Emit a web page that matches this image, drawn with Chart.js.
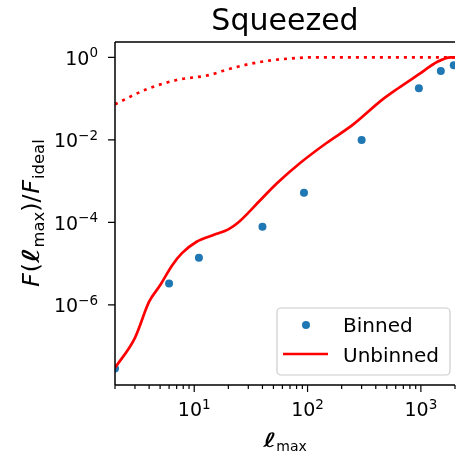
<!DOCTYPE html>
<html>
<head>
<meta charset="utf-8">
<script src="https://cdn.jsdelivr.net/npm/chart.js@4"></script>
<style>
  html, body { margin: 0; padding: 0; background: #fff; }
  canvas { display: block; }
</style>
</head>
<body>
<canvas id="chart" width="459" height="459"></canvas>
<script>
// ── Data ────────────────────────────────────────────────────────────────────
const binnedL = [2, 6, 11, 40, 93, 300, 960, 1500, 1950];
const binnedF = [2.9e-8, 3.3e-6, 1.4e-5, 7.8e-5, 5.2e-4, 9.9e-3, 0.178, 0.467, 0.64];

const unbinnedL = [2, 3, 4, 5, 6.4, 7.8, 10.5, 14.6, 20, 24.3, 38.8, 54, 86, 147, 250, 454, 631, 941, 1400, 1830, 2000];
const unbinnedF = [3e-8, 1.6e-7, 1.2e-6, 3.0e-6, 9.2e-6, 1.8e-5, 3.4e-5, 4.9e-5, 6.8e-5, 9.8e-5, 3.6e-4, 9e-4, 2.75e-3, 8.4e-3, 0.023, 0.093, 0.178, 0.373, 0.78, 1.0, 1.0];

const idealL = [2, 3.8, 7, 13.6, 18.8, 30, 48.7, 80, 112, 300, 1000, 2000];
const idealF = [0.073, 0.168, 0.282, 0.372, 0.49, 0.68, 0.85, 0.96, 1.0, 1.0, 1.0, 1.0];

const xMajor = [10, 100, 1000];
const yMajor = [1, 1e-2, 1e-4, 1e-6];
const yExp = ['0', '−2', '−4', '−6'];
const xExp = ['1', '2', '3'];

const FONT = '"DejaVu Sans"';
const BLUE = '#1f77b4';
const RED = '#ff0000';

const pts = (xs, ys) => xs.map((x, i) => ({ x, y: ys[i] }));

// ── Text helper: pieces of {t, italic, sub, sx, pad} ─────────────────────────
function drawRich(ctx, pieces, x, y, size) {
  const font = p => `${p.italic ? 'italic ' : ''}${p.sub ? size * 0.7 : size}px ${FONT}`;
  const widthOf = p => { ctx.font = font(p); return ctx.measureText(p.t).width * (p.sx || 1) + (p.pad || 0); };
  const w = pieces.reduce((s, p) => s + widthOf(p), 0);
  let cx = x - w / 2;
  ctx.textAlign = 'left';
  ctx.textBaseline = 'alphabetic';
  pieces.forEach(p => {
    const pw = widthOf(p);
    ctx.font = font(p);
    ctx.save();
    ctx.translate(cx + (p.pad || 0) / 2, y + (p.sub ? size * 0.22 : 0));
    ctx.scale(p.sx || 1, 1);
    ctx.fillText(p.t, 0, 0);
    ctx.restore();
    cx += pw;
  });
}

// "10" with a raised exponent; align = 'center' or 'right'
function drawPow(ctx, exp, x, y, align) {
  ctx.textBaseline = 'alphabetic';
  ctx.textAlign = 'left';
  ctx.font = `19px ${FONT}`;
  const wb = ctx.measureText('10').width;
  ctx.font = `13.5px ${FONT}`;
  const we = ctx.measureText(exp).width;
  const total = wb + we;
  const left = align === 'right' ? x - total : x - total / 2;
  ctx.font = `19px ${FONT}`;
  ctx.fillText('10', left, y);
  ctx.font = `13.5px ${FONT}`;
  ctx.fillText(exp, left + wb, y - 7.5);
}

const decor = {
  id: 'decor',
  afterDraw(chart) {
    const { ctx, chartArea: a, scales: { x, y } } = chart;
    ctx.save();
    ctx.fillStyle = '#000';
    ctx.strokeStyle = '#000';

    // spines
    ctx.lineWidth = 1.5;
    ctx.beginPath();
    ctx.moveTo(a.left, a.top); ctx.lineTo(a.right, a.top);
    ctx.moveTo(a.left, a.top); ctx.lineTo(a.left, a.bottom);
    ctx.moveTo(a.left, a.bottom); ctx.lineTo(a.right, a.bottom);
    ctx.stroke();

    // x ticks (major + minor)
    ctx.lineWidth = 1.2;
    ctx.beginPath();
    for (let d = 1; d <= 1000; d *= 10) {
      for (let m = 1; m <= 9; m++) {
        const v = d * m;
        if (v < x.min || v > x.max) continue;
        const px = x.getPixelForValue(v);
        const len = m === 1 ? 7 : 4;
        ctx.moveTo(px, a.bottom);
        ctx.lineTo(px, a.bottom + len);
      }
    }
    // y ticks
    yMajor.forEach(v => {
      const py = y.getPixelForValue(v);
      ctx.moveTo(a.left, py);
      ctx.lineTo(a.left - 7, py);
    });
    ctx.stroke();

    xMajor.forEach((v, i) => drawPow(ctx, xExp[i], x.getPixelForValue(v), a.bottom + 31, 'center'));
    yMajor.forEach((v, i) => drawPow(ctx, yExp[i], a.left - 17, y.getPixelForValue(v) + 7.5, 'right'));

    // title
    ctx.font = `30px ${FONT}`;
    ctx.textAlign = 'center';
    ctx.textBaseline = 'alphabetic';
    ctx.fillText('Squeezed', (a.left + a.right) / 2, 29.5);

    // axis labels
    drawRich(ctx, [{ t: 'ℓ', italic: true, sx: 1.6 }, { t: 'max', sub: true }], (a.left + a.right) / 2, 447, 20);
    ctx.save();
    ctx.translate(39, (a.top + a.bottom) / 2);
    ctx.rotate(-Math.PI / 2);
    drawRich(ctx, [
      { t: 'F', italic: true, pad: 2 }, { t: '(' }, { t: 'ℓ', italic: true, sx: 1.6 }, { t: 'max', sub: true },
      { t: ')' }, { t: '/' }, { t: 'F', italic: true, pad: 2 }, { t: 'ideal', sub: true }
    ], 0, 0, 23.5);
    ctx.restore();

    // legend
    const lx = 277, ly = 308, lw = 173, lh = 67;
    ctx.beginPath();
    ctx.roundRect(lx, ly, lw, lh, 4);
    ctx.fillStyle = 'rgba(255,255,255,0.8)';
    ctx.fill();
    ctx.strokeStyle = '#cccccc';
    ctx.lineWidth = 1.2;
    ctx.stroke();

    ctx.fillStyle = BLUE;
    ctx.beginPath();
    ctx.arc(306, 325, 4, 0, Math.PI * 2);
    ctx.fill();

    ctx.strokeStyle = RED;
    ctx.lineWidth = 2.7;
    ctx.beginPath();
    ctx.moveTo(283, 354);
    ctx.lineTo(328, 354);
    ctx.stroke();

    ctx.fillStyle = '#000';
    ctx.font = `20px ${FONT}`;
    ctx.textAlign = 'left';
    ctx.fillText('Binned', 343, 332);
    ctx.fillText('Unbinned', 343, 362);

    ctx.restore();
  }
};

new Chart(document.getElementById('chart'), {
  type: 'scatter',
  data: {
    datasets: [
      {
        label: 'ideal',
        data: pts(idealL, idealF),
        showLine: true,
        borderColor: RED,
        borderWidth: 2.7,
        borderDash: [3, 5],
        pointRadius: 0,
        cubicInterpolationMode: 'monotone',
      },
      {
        label: 'Unbinned',
        data: pts(unbinnedL, unbinnedF),
        showLine: true,
        borderColor: RED,
        borderWidth: 2.7,
        pointRadius: 0,
        cubicInterpolationMode: 'monotone',
      },
      {
        label: 'Binned',
        data: pts(binnedL, binnedF),
        showLine: false,
        pointRadius: 4,
        pointBorderWidth: 0,
        pointBackgroundColor: BLUE,
        backgroundColor: BLUE,
      },
    ],
  },
  options: {
    responsive: false,
    animation: false,
    devicePixelRatio: 1,
    layout: { padding: { left: 115, top: 42, right: 0, bottom: 74 } },
    plugins: { legend: { display: false }, tooltip: { enabled: false } },
    scales: {
      x: { type: 'logarithmic', min: 2, max: 2000, display: false },
      y: { type: 'logarithmic', min: 1.15e-8, max: 2.35, display: false },
    },
  },
  plugins: [decor],
});
</script>
</body>
</html>
